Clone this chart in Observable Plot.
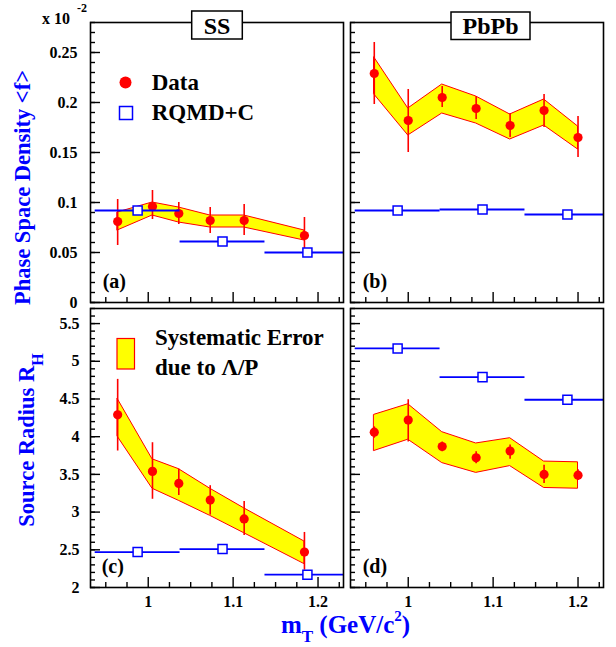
<!DOCTYPE html>
<html>
<head>
<meta charset="utf-8">
<script src="https://cdn.jsdelivr.net/npm/d3@7"></script>
<script src="https://cdn.jsdelivr.net/npm/@observablehq/plot@0.6"></script>
<style>
  html, body { margin: 0; padding: 0; background: #fff; }
  #wrap { position: relative; width: 616px; height: 647px; overflow: hidden; background: #fff; }
  #overlay { position: absolute; left: 0; top: 0; pointer-events: none; }
</style>
</head>
<body>
<div id="wrap"></div>
<script>
// ---------- axis / tick data ----------
const X_DOMAIN = [0.932, 1.23];
const F_DOMAIN = [0, 0.28];
const R_DOMAIN = [2, 5.7];
const xTickLabels = [1, 1.1, 1.2];
const fTickLabels = [0, 0.05, 0.1, 0.15, 0.2, 0.25];
const rTickLabels = [2, 2.5, 3, 3.5, 4, 4.5, 5, 5.5];

// ---------- S+S data ----------
const ssMt      = [0.964, 1.005, 1.036, 1.073, 1.113, 1.184];
const ssF       = [0.081, 0.096, 0.089, 0.082, 0.082, 0.067];
const ssFErrLo  = [0.057, 0.083, 0.078, 0.069, 0.067, 0.050];
const ssFErrHi  = [0.103, 0.112, 0.100, 0.095, 0.098, 0.085];
const ssFSysLo  = [0.072, 0.087, 0.080, 0.075, 0.075, 0.062];
const ssFSysHi  = [0.090, 0.100, 0.095, 0.087, 0.087, 0.072];
const ssR       = [4.29, 3.54, 3.38, 3.16, 2.91, 2.47];
const ssRErrLo  = [3.81, 3.17, 3.22, 2.96, 2.69, 2.23];
const ssRErrHi  = [4.76, 3.92, 3.57, 3.35, 3.14, 2.73];
const ssRSysLo  = [4.00, 3.31, 3.15, 2.95, 2.72, 2.31];
const ssRSysHi  = [4.50, 3.70, 3.57, 3.31, 3.05, 2.61];

// ---------- Pb+Pb data ----------
const pbMt      = [0.96, 1.00, 1.04, 1.08, 1.12, 1.16, 1.20];
const pbF       = [0.229, 0.182, 0.205, 0.194, 0.177, 0.192, 0.165];
const pbFErrLo  = [0.198, 0.150, 0.195, 0.183, 0.165, 0.175, 0.145];
const pbFErrHi  = [0.260, 0.213, 0.216, 0.206, 0.189, 0.208, 0.186];
const pbFSysLo  = [0.208, 0.167, 0.189, 0.179, 0.163, 0.177, 0.153];
const pbFSysHi  = [0.245, 0.194, 0.218, 0.206, 0.188, 0.203, 0.176];
const pbR       = [4.06, 4.22, 3.87, 3.72, 3.81, 3.50, 3.49];
const pbRErrLo  = [3.98, 3.93, 3.80, 3.64, 3.70, 3.38, 3.42];
const pbRErrHi  = [4.13, 4.49, 3.93, 3.80, 3.89, 3.62, 3.56];
const pbRSysLo  = [3.81, 3.96, 3.65, 3.52, 3.61, 3.32, 3.31];
const pbRSysHi  = [4.29, 4.43, 4.06, 3.91, 3.98, 3.67, 3.66];

// ---------- RQMD+C ----------
const rqMt   = [0.9875, 1.0875, 1.1875];
const rqLo   = [0.9375, 1.0375, 1.1375];
const rqHi   = [1.0375, 1.1375, 1.2375];
const ssRqF  = [0.092, 0.061, 0.050];
const ssRqR  = [2.47, 2.51, 2.17];
const pbRqF  = [0.092, 0.093, 0.088];
const pbRqR  = [5.17, 4.79, 4.49];

// ---------- styles ----------
const RED = "#ff0000", BLUE = "#0000ff", YELLOW = "#ffff00";
const FONT = "'Liberation Serif', 'Times New Roman', serif";

const rows = (x, y, eLo, eHi, sLo, sHi) =>
  x.map((v, i) => ({x: v, y: y[i], eLo: eLo[i], eHi: eHi[i], sLo: sLo[i], sHi: sHi[i]}));
const rqRows = (y) => rqMt.map((v, i) => ({x: v, y: y[i], lo: rqLo[i], hi: rqHi[i]}));

const xMinor = d3.range(0, 12).map(i => +(0.95 + i * 0.025).toFixed(3)).filter(v => !xTickLabels.some(t => Math.abs(t - v) < 1e-6));
const fMinor = d3.range(0, 29).map(i => +(i * 0.01).toFixed(2));
const rMinor = d3.range(0, 38).map(i => +(2 + i * 0.1).toFixed(1));

const wrap = document.getElementById("wrap");

function panel(o) {
  const marks = [
    Plot.areaY(o.data, {x: "x", y1: "sLo", y2: "sHi", fill: YELLOW, stroke: RED, strokeWidth: 1}),
    Plot.ruleX(o.data, {x: "x", y1: "eLo", y2: "eHi", stroke: RED, strokeWidth: 1.6}),
    Plot.dot(o.data, {x: "x", y: "y", r: 4.6, fill: RED}),
    Plot.ruleY(o.rq, {y: "y", x1: "lo", x2: "hi", stroke: BLUE, strokeWidth: 1.8, clip: true}),
    Plot.dot(o.rq, {x: "x", y: "y", symbol: "square", r: 5.1, fill: "white", stroke: BLUE, strokeWidth: 1.5}),
    Plot.axisY(o.yMinor, {tickSize: -5, fill: "none", strokeWidth: 1.4, label: null}),
    Plot.axisY(o.yMajor, {tickSize: -10, fill: "none", strokeWidth: 1.4, label: null}),
    Plot.axisX(xMinor, {tickSize: -5, fill: "none", strokeWidth: 1.4, label: null}),
    Plot.axisX(xTickLabels, {tickSize: -10, fill: "none", strokeWidth: 1.4, label: null}),
    Plot.frame({stroke: "black", strokeWidth: 1.6})
  ];
  if (o.yLabels) marks.push(Plot.axisY(o.yMajor, {tickSize: 0, tickPadding: o.yPad, tickFormat: d => String(d), label: null}));
  if (o.xLabels) marks.push(Plot.axisX(xTickLabels, {tickSize: 0, tickPadding: 8, tickFormat: d => String(d), label: null}));
  const svg = Plot.plot({
    width: o.width, height: o.height,
    marginLeft: o.ml, marginRight: o.mr, marginTop: o.mt, marginBottom: o.mb,
    x: {domain: X_DOMAIN},
    y: {domain: o.yDomain},
    style: {background: "transparent", color: "black", fontFamily: FONT, fontSize: "16px", fontWeight: "bold", overflow: "visible"},
    marks
  });
  svg.style.position = "absolute";
  svg.style.left = o.left + "px";
  svg.style.top = o.top + "px";
  wrap.appendChild(svg);
}

// (a) S+S phase space density
panel({left: 0, top: 0, width: 346, height: 306, ml: 90, mr: 3, mt: 22, mb: 4,
  yDomain: F_DOMAIN, yMajor: fTickLabels, yMinor: fMinor, yLabels: true, yPad: 13, xLabels: false,
  data: rows(ssMt, ssF, ssFErrLo, ssFErrHi, ssFSysLo, ssFSysHi), rq: rqRows(ssRqF)});
// (b) Pb+Pb phase space density
panel({left: 346, top: 0, width: 270, height: 306, ml: 4, mr: 13, mt: 22, mb: 4,
  yDomain: F_DOMAIN, yMajor: fTickLabels, yMinor: fMinor, yLabels: false, xLabels: false,
  data: rows(pbMt, pbF, pbFErrLo, pbFErrHi, pbFSysLo, pbFSysHi), rq: rqRows(pbRqF)});
// (c) S+S radius
panel({left: 0, top: 306, width: 346, height: 320, ml: 90, mr: 3, mt: 2, mb: 39,
  yDomain: R_DOMAIN, yMajor: rTickLabels, yMinor: rMinor, yLabels: true, yPad: 11, xLabels: true,
  data: rows(ssMt, ssR, ssRErrLo, ssRErrHi, ssRSysLo, ssRSysHi), rq: rqRows(ssRqR)});
// (d) Pb+Pb radius
panel({left: 346, top: 306, width: 270, height: 320, ml: 4, mr: 13, mt: 2, mb: 39,
  yDomain: R_DOMAIN, yMajor: rTickLabels, yMinor: rMinor, yLabels: false, xLabels: true,
  data: rows(pbMt, pbR, pbRErrLo, pbRErrHi, pbRSysLo, pbRSysHi), rq: rqRows(pbRqR)});

// ---------- overlay: titles, legends, labels ----------
const ov = `
<svg id="overlay" width="616" height="647" xmlns="http://www.w3.org/2000/svg" font-family="${FONT}" font-weight="bold">
  <text x="42" y="24" font-size="16">x 10</text>
  <text x="77" y="12" font-size="12">-2</text>

  <text transform="translate(30,187.5) rotate(-90)" text-anchor="middle" font-size="22.5" fill="${BLUE}">Phase Space Density &lt;f&gt;</text>
  <text transform="translate(34,440) rotate(-90)" text-anchor="middle" font-size="22.5" fill="${BLUE}">Source Radius R<tspan font-size="16" dy="9">H</tspan></text>
  <text x="345.5" y="633" text-anchor="middle" font-size="25" fill="${BLUE}">m<tspan font-size="17" dy="9">T</tspan><tspan dy="-9"> (GeV/c</tspan><tspan font-size="15" dy="-12">2</tspan><tspan dy="12">)</tspan></text>

  <rect x="191.7" y="11" width="50.6" height="28" fill="white" stroke="black" stroke-width="1.5"/>
  <text x="217" y="33.5" text-anchor="middle" font-size="24">SS</text>
  <rect x="451" y="12" width="79" height="27.5" fill="white" stroke="black" stroke-width="1.5"/>
  <text x="490.5" y="33.5" text-anchor="middle" font-size="24">PbPb</text>

  <circle cx="125.5" cy="82.5" r="6" fill="${RED}"/>
  <text x="151.7" y="90" font-size="23">Data</text>
  <rect x="119.5" y="106.5" width="13" height="13" fill="white" stroke="${BLUE}" stroke-width="1.5"/>
  <text x="151.7" y="120" font-size="23">RQMD+C</text>

  <rect x="117" y="338.5" width="17.5" height="30.5" fill="${YELLOW}" stroke="${RED}" stroke-width="1.2"/>
  <text x="155" y="345" font-size="23">Systematic Error</text>
  <text x="155" y="375" font-size="23">due to Λ/P</text>

  <text x="102.7" y="288" font-size="20">(a)</text>
  <text x="362.7" y="288" font-size="20">(b)</text>
  <text x="101.7" y="573" font-size="20">(c)</text>
  <text x="362.7" y="573" font-size="20">(d)</text>
</svg>`;
wrap.insertAdjacentHTML("beforeend", ov);
</script>
</body>
</html>
